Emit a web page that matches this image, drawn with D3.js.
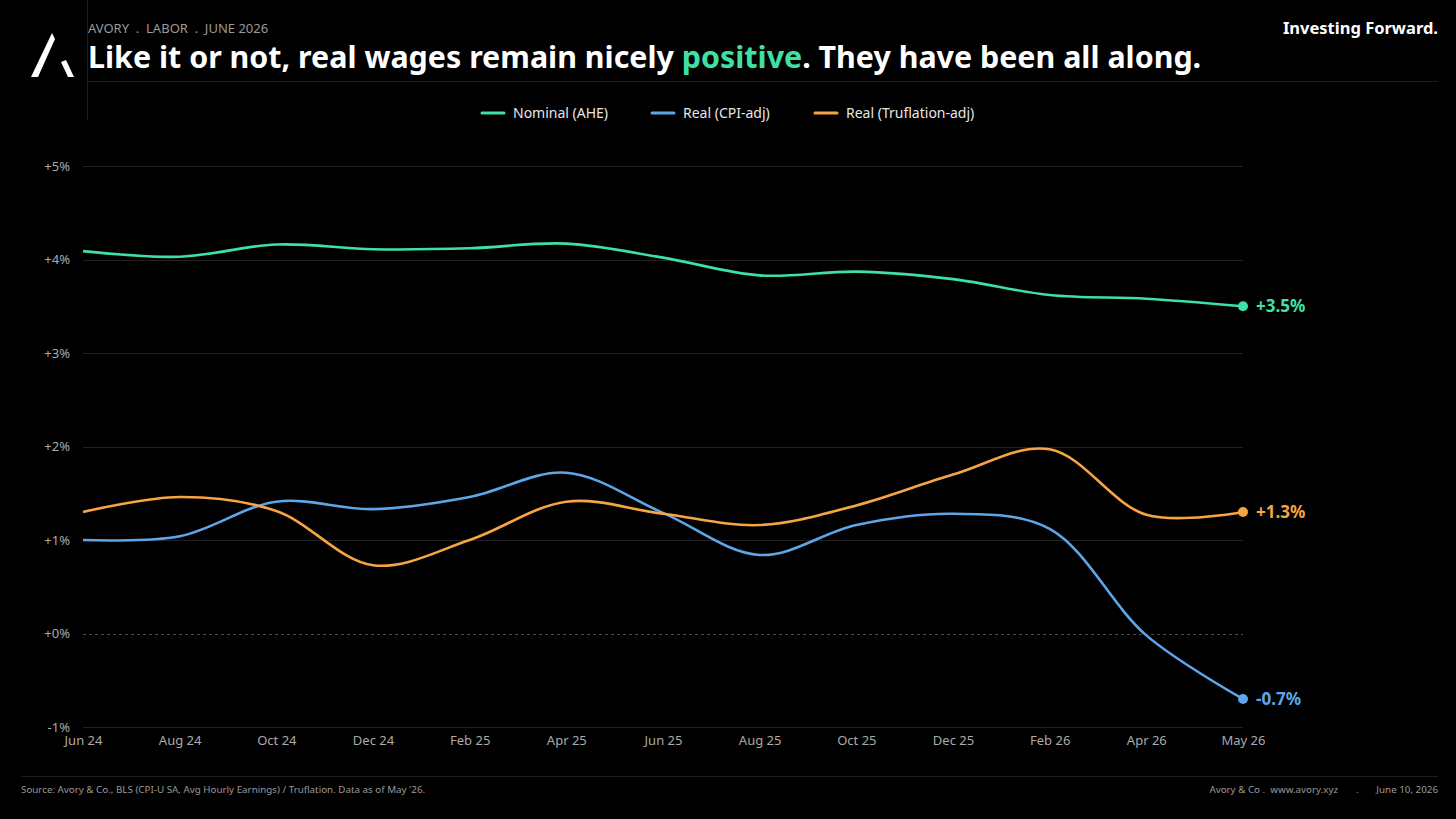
<!DOCTYPE html>
<html>
<head>
<meta charset="utf-8">
<script src="https://cdn.jsdelivr.net/npm/d3@7"></script>
<style>
  html, body { margin: 0; padding: 0; background: #000; }
  svg { display: block; font-family: "Noto Sans", "Open Sans", sans-serif; }
</style>
</head>
<body>
<script>
// chart data
var months = ["Jun 24", "Aug 24", "Oct 24", "Dec 24", "Feb 25", "Apr 25", "Jun 25",
              "Aug 25", "Oct 25", "Dec 25", "Feb 26", "Apr 26", "May 26"];
var nominal = [4.09, 4.03, 4.16, 4.11, 4.12, 4.17, 4.02, 3.83, 3.87, 3.79, 3.62, 3.58, 3.50];
var realCpi = [1.00, 1.04, 1.41, 1.33, 1.46, 1.72, 1.29, 0.84, 1.16, 1.28, 1.12, -0.02, -0.70];
var realTrufl = [1.30, 1.46, 1.31, 0.73, 1.00, 1.41, 1.28, 1.16, 1.37, 1.70, 1.97, 1.27, 1.30];
var yTicks = [-1, 0, 1, 2, 3, 4, 5];

var series = [
  {name: "Nominal (AHE)", values: nominal, color: "#3fe0a4"},
  {name: "Real (CPI-adj)", values: realCpi, color: "#5da6e8"},
  {name: "Real (Truflation-adj)", values: realTrufl, color: "#f7a443"}
];

var width = 1456, height = 819;
var margin = {top: 166, right: 213, bottom: 92, left: 83};
var nb = "\u00a0";

var svg = d3.select("body").append("svg")
    .attr("width", width)
    .attr("height", height);

svg.append("rect").attr("width", width).attr("height", height).attr("fill", "#000");

// header
var logo = svg.append("g").attr("fill", "#fff");
logo.append("polygon").attr("points", "31,77 38,77 55,39 52,33");
logo.append("polygon").attr("points", "61,62 66,60 74,77 68,77");

svg.append("line")
    .attr("x1", 87.5).attr("x2", 87.5).attr("y1", 0).attr("y2", 120)
    .attr("stroke", "#1e1e1e");

svg.append("text")
    .attr("x", 88).attr("y", 33)
    .attr("fill", "#9a9a9a")
    .style("font-size", "13px")
    .text("AVORY" + nb + nb + "." + nb + nb + "LABOR" + nb + nb + "." + nb + nb + "JUNE 2026");

var title = svg.append("text")
    .attr("x", 88).attr("y", 68)
    .attr("fill", "#fff")
    .style("font-size", "30.4px")
    .style("font-weight", "bold");
title.append("tspan").text("Like it or not, real wages remain nicely ");
title.append("tspan").attr("fill", "#3fe0a4").text("positive");
title.append("tspan").text(". They have been all along.");

svg.append("text")
    .attr("x", 1438).attr("y", 34)
    .attr("text-anchor", "end")
    .attr("fill", "#fff")
    .style("font-size", "16.5px")
    .style("font-weight", "bold")
    .text("Investing Forward.");

svg.append("line")
    .attr("x1", 88).attr("x2", 1438).attr("y1", 81.5).attr("y2", 81.5)
    .attr("stroke", "#1e1e1e");

// legend
var legendX = [482, 652, 815];
var legend = svg.append("g");
series.forEach(function (s, i) {
    var g = legend.append("g").attr("transform", "translate(" + legendX[i] + ",113)");
    g.append("line").attr("x1", 0).attr("x2", 22).attr("y1", 0).attr("y2", 0)
        .attr("stroke", s.color).attr("stroke-width", 3).attr("stroke-linecap", "round");
    g.append("text").attr("x", 31).attr("y", 5)
        .attr("fill", "#e6e6e6").style("font-size", "14px").text(s.name);
});

// scales
var x = d3.scalePoint()
    .domain(months)
    .range([margin.left, width - margin.right]);

var y = d3.scaleLinear()
    .domain([-1, 5])
    .range([height - margin.bottom, margin.top]);

// grid
svg.append("g").selectAll("line")
    .data(yTicks)
    .join("line")
    .attr("x1", margin.left).attr("x2", width - margin.right)
    .attr("y1", d => Math.round(y(d)) + 0.5).attr("y2", d => Math.round(y(d)) + 0.5)
    .attr("stroke", d => d === 0 ? "#4a4a4a" : "#222")
    .attr("stroke-dasharray", d => d === 0 ? "3,3" : null);

// y axis labels
svg.append("g")
    .attr("transform", "translate(" + (margin.left - 10) + ",0)")
    .call(d3.axisLeft(y).tickValues(yTicks).tickSize(0).tickFormat(d => (d >= 0 ? "+" : "") + d + "%"))
    .call(g => g.select(".domain").remove())
    .call(g => g.selectAll("text").attr("fill", "#aaa").style("font-size", "13px")
        .style("font-family", "'Noto Sans', sans-serif"));

// x axis labels
svg.append("g")
    .attr("transform", "translate(0," + (height - margin.bottom + 6) + ")")
    .call(d3.axisBottom(x).tickSize(0))
    .call(g => g.select(".domain").remove())
    .call(g => g.selectAll("text").attr("fill", "#aaa").style("font-size", "13px")
        .style("font-family", "'Noto Sans', sans-serif"));

// lines
var line = d3.line()
    .x((d, i) => x(months[i]))
    .y(d => y(d))
    .curve(d3.curveCatmullRom.alpha(0.5));

series.forEach(function (s) {
    svg.append("path")
        .datum(s.values)
        .attr("fill", "none")
        .attr("stroke", s.color)
        .attr("stroke-width", 2.6)
        .attr("d", line);

    var last = s.values[s.values.length - 1];
    svg.append("circle")
        .attr("cx", x(months[months.length - 1]))
        .attr("cy", y(last))
        .attr("r", 5)
        .attr("fill", s.color);
    svg.append("text")
        .attr("x", x(months[months.length - 1]) + 13)
        .attr("y", y(last) + 6)
        .attr("fill", s.color)
        .style("font-size", "17px")
        .style("font-weight", "bold")
        .text((last >= 0 ? "+" : "") + last.toFixed(1) + "%");
});

// footer
svg.append("line")
    .attr("x1", 21).attr("x2", 1438).attr("y1", 776.5).attr("y2", 776.5)
    .attr("stroke", "#1e1e1e");

svg.append("text")
    .attr("x", 21).attr("y", 793)
    .attr("fill", "#999")
    .style("font-size", "9.8px")
    .text("Source: Avory & Co., BLS (CPI-U SA, Avg Hourly Earnings) / Truflation. Data as of May '26.");

svg.append("text")
    .attr("x", 1438).attr("y", 793)
    .attr("text-anchor", "end")
    .attr("fill", "#999")
    .style("font-size", "9.8px")
    .text("Avory & Co ." + nb + nb + "www.avory.xyz" + nb.repeat(7) + "." + nb.repeat(7) + "June 10, 2026");
</script>
</body>
</html>
